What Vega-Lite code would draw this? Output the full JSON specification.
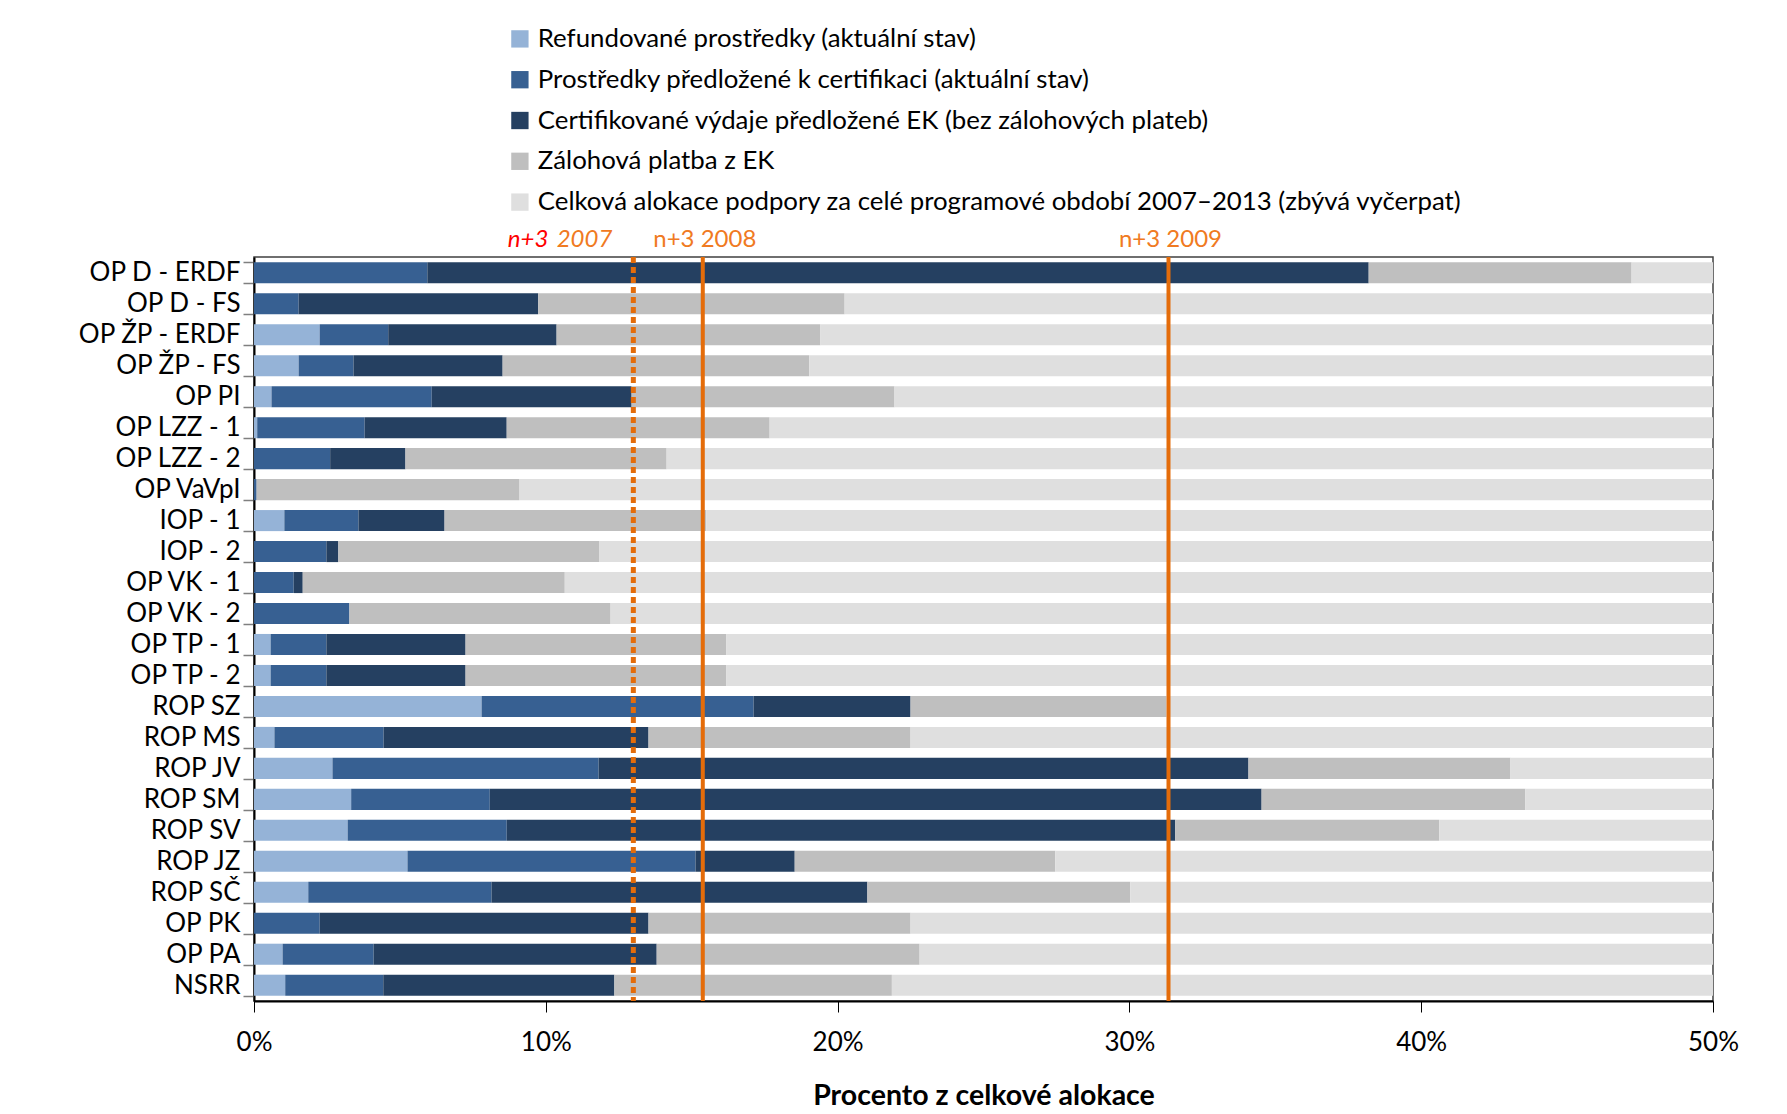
{
  "$schema": "https://vega.github.io/schema/vega-lite/v6.json",
  "width": 1459,
  "height": 744,
  "autosize": {"type": "none"},
  "padding": {"left": 254, "top": 257, "right": 74, "bottom": 113},
  "background": "white",
  "config": {
    "font": "Lato",
    "view": {"stroke": "#404040", "strokeWidth": 1.5}
  },
  "datasets": {
    "alloc": [
      {"program": "OP D - ERDF", "r": 0, "p": 5.94, "c": 32.26, "z": 9.01, "o": 52.79},
      {"program": "OP D - FS", "r": 0, "p": 1.53, "c": 8.21, "z": 10.5, "o": 79.76},
      {"program": "OP ŽP - ERDF", "r": 2.25, "p": 2.35, "c": 5.77, "z": 9.04, "o": 80.59},
      {"program": "OP ŽP - FS", "r": 1.53, "p": 1.88, "c": 5.11, "z": 10.51, "o": 80.97},
      {"program": "OP PI", "r": 0.6, "p": 5.49, "c": 6.85, "z": 9.01, "o": 78.05},
      {"program": "OP LZZ - 1", "r": 0.11, "p": 3.68, "c": 4.87, "z": 9.01, "o": 82.33},
      {"program": "OP LZZ - 2", "r": 0, "p": 2.61, "c": 2.58, "z": 8.95, "o": 85.86},
      {"program": "OP VaVpI", "r": 0, "p": 0.09, "c": 0, "z": 9.01, "o": 90.9},
      {"program": "IOP - 1", "r": 1.04, "p": 2.54, "c": 2.95, "z": 8.97, "o": 84.5},
      {"program": "IOP - 2", "r": 0, "p": 2.48, "c": 0.41, "z": 8.95, "o": 88.16},
      {"program": "OP VK - 1", "r": 0, "p": 1.36, "c": 0.31, "z": 8.98, "o": 89.35},
      {"program": "OP VK - 2", "r": 0, "p": 3.27, "c": 0, "z": 8.95, "o": 87.78},
      {"program": "OP TP - 1", "r": 0.57, "p": 1.91, "c": 4.77, "z": 8.94, "o": 83.81},
      {"program": "OP TP - 2", "r": 0.57, "p": 1.91, "c": 4.77, "z": 8.94, "o": 83.81},
      {"program": "ROP SZ", "r": 7.8, "p": 9.32, "c": 5.38, "z": 8.77, "o": 68.73},
      {"program": "ROP MS", "r": 0.7, "p": 3.74, "c": 9.08, "z": 8.98, "o": 77.5},
      {"program": "ROP JV", "r": 2.69, "p": 9.12, "c": 22.27, "z": 8.98, "o": 56.94},
      {"program": "ROP SM", "r": 3.33, "p": 4.75, "c": 26.45, "z": 9.04, "o": 56.43},
      {"program": "ROP SV", "r": 3.21, "p": 5.45, "c": 22.91, "z": 9.05, "o": 59.38},
      {"program": "ROP JZ", "r": 5.26, "p": 9.87, "c": 3.4, "z": 8.93, "o": 72.54},
      {"program": "ROP SČ", "r": 1.86, "p": 6.28, "c": 12.88, "z": 9.01, "o": 69.97},
      {"program": "OP PK", "r": 0, "p": 2.25, "c": 11.27, "z": 8.98, "o": 77.5},
      {"program": "OP PA", "r": 0.98, "p": 3.12, "c": 9.7, "z": 9.01, "o": 77.19},
      {"program": "NSRR", "r": 1.07, "p": 3.36, "c": 7.92, "z": 9.51, "o": 78.14}
    ],
    "series": [
      {"key": "r", "order": 1, "label": "Refundované prostředky (aktuální stav)"},
      {"key": "p", "order": 2, "label": "Prostředky předložené k certifikaci (aktuální stav)"},
      {"key": "c", "order": 3, "label": "Certifikované výdaje předložené EK (bez zálohových plateb)"},
      {"key": "z", "order": 4, "label": "Zálohová platba z EK"},
      {"key": "o", "order": 5, "label": "Celková alokace podpory za celé programové období 2007–2013 (zbývá vyčerpat)"}
    ],
    "deadlines": [
      {"x": 13.0, "label": "n+3 2007", "kind": "dotted"},
      {"x": 15.38, "label": "n+3 2008", "kind": "solid"},
      {"x": 31.34, "label": "n+3 2009", "kind": "solid"}
    ]
  },
  "layer": [
    {
      "data": {"name": "alloc"},
      "transform": [
        {"fold": ["r", "p", "c", "z", "o"], "as": ["key", "value"]},
        {"lookup": "key", "from": {"data": {"name": "series"}, "key": "key", "fields": ["label", "order"]}}
      ],
      "mark": {"type": "bar", "clip": true},
      "encoding": {
        "y": {
          "field": "program",
          "type": "nominal",
          "sort": ["OP D - ERDF", "OP D - FS", "OP ŽP - ERDF", "OP ŽP - FS", "OP PI", "OP LZZ - 1", "OP LZZ - 2", "OP VaVpI", "IOP - 1", "IOP - 2", "OP VK - 1", "OP VK - 2", "OP TP - 1", "OP TP - 2", "ROP SZ", "ROP MS", "ROP JV", "ROP SM", "ROP SV", "ROP JZ", "ROP SČ", "OP PK", "OP PA", "NSRR"],
          "scale": {"paddingInner": 0.32, "paddingOuter": 0.17},
          "axis": {
            "title": null,
            "labelFontSize": 26,
            "labelColor": "black",
            "labelPadding": 3,
            "tickBand": "extent",
            "tickSize": 11,
            "tickColor": "#7f7f7f",
            "tickWidth": 1.5,
            "domainColor": "black",
            "domainWidth": 2
          }
        },
        "x": {
          "field": "value",
          "type": "quantitative",
          "stack": "zero",
          "scale": {"domain": [0, 50], "nice": false},
          "axis": {
            "values": [0, 10, 20, 30, 40, 50],
            "labelExpr": "datum.value + '%'",
            "grid": false,
            "tickSize": 11,
            "tickColor": "black",
            "tickWidth": 1,
            "domainColor": "black",
            "domainWidth": 2,
            "labelFontSize": 26,
            "labelColor": "black",
            "labelPadding": 17,
            "labelFlush": false,
            "title": "Procento z celkové alokace",
            "titleFontSize": 28.5,
            "titleFontWeight": "bold",
            "titleColor": "black",
            "titlePadding": 26
          }
        },
        "color": {
          "field": "label",
          "type": "nominal",
          "scale": {
            "domain": ["Refundované prostředky (aktuální stav)", "Prostředky předložené k certifikaci (aktuální stav)", "Certifikované výdaje předložené EK (bez zálohových plateb)", "Zálohová platba z EK", "Celková alokace podpory za celé programové období 2007–2013 (zbývá vyčerpat)"],
            "range": ["#95B3D7", "#376092", "#254061", "#BFBFBF", "#DFDFDF"]
          },
          "legend": {
            "title": null,
            "orient": "none",
            "legendX": 253,
            "legendY": -231,
            "direction": "vertical",
            "symbolType": "square",
            "symbolSize": 300,
            "symbolStrokeWidth": 0,
            "labelFontSize": 25.8,
            "labelColor": "black",
            "labelOffset": 5,
            "labelLimit": 1200,
            "rowPadding": 13.8
          }
        },
        "order": {"field": "order", "type": "quantitative"}
      }
    },
    {
      "data": {"name": "deadlines"},
      "transform": [{"filter": "datum.kind == 'dotted'"}],
      "mark": {"type": "rule", "color": "#E46C0A", "strokeWidth": 5, "strokeDash": [6, 4], "strokeCap": "butt"},
      "encoding": {"x": {"field": "x", "type": "quantitative"}}
    },
    {
      "data": {"name": "deadlines"},
      "transform": [{"filter": "datum.kind == 'solid'"}],
      "mark": {"type": "rule", "color": "#E46C0A", "strokeWidth": 4},
      "encoding": {"x": {"field": "x", "type": "quantitative"}}
    },
    {
      "data": {"name": "deadlines"},
      "transform": [{"filter": "datum.kind == 'solid'"}],
      "mark": {"type": "text", "color": "#F07A22", "fontSize": 24, "align": "center", "baseline": "alphabetic", "dx": 2, "dy": -10},
      "encoding": {
        "x": {"field": "x", "type": "quantitative"},
        "y": {"value": 0},
        "text": {"field": "label"}
      }
    },
    {
      "data": {"values": [{"x": 13.0, "part": "2007"}]},
      "mark": {"type": "text", "color": "#F07A22", "fontSize": 24, "fontStyle": "italic", "align": "right", "baseline": "alphabetic", "dx": -21, "dy": -10},
      "encoding": {
        "x": {"field": "x", "type": "quantitative"},
        "y": {"value": 0},
        "text": {"field": "part"}
      }
    },
    {
      "data": {"values": [{"x": 13.0, "part": "n+3"}]},
      "mark": {"type": "text", "color": "#FF0000", "fontSize": 24, "fontStyle": "italic", "align": "right", "baseline": "alphabetic", "dx": -85, "dy": -10},
      "encoding": {
        "x": {"field": "x", "type": "quantitative"},
        "y": {"value": 0},
        "text": {"field": "part"}
      }
    }
  ]
}
